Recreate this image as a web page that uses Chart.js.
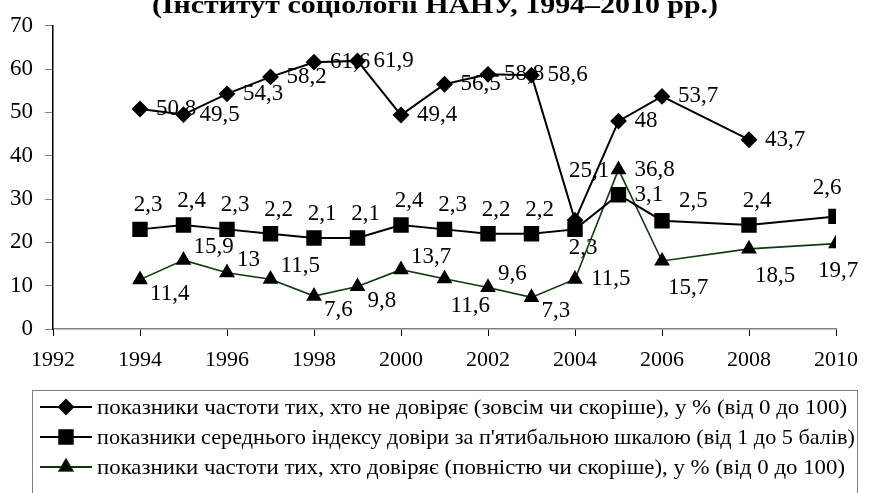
<!DOCTYPE html>
<html lang="uk">
<head>
<meta charset="UTF-8">
<title>Довіра (Інститут соціології НАНУ, 1994–2010)</title>
<script src="https://cdn.jsdelivr.net/npm/chart.js@4"></script>
<style>
  html, body { margin: 0; padding: 0; background: #fff; }
  canvas { display: block; }
</style>
</head>
<body>
<canvas id="trustChart" width="869" height="493"></canvas>
<script>
// years of the surveys
var years = [1994, 1995, 1996, 1997, 1998, 1999, 2000, 2001, 2002, 2003, 2004, 2005, 2006, 2008, 2010];
var yearsDistrust = [1994, 1995, 1996, 1997, 1998, 1999, 2000, 2001, 2002, 2003, 2004, 2005, 2006, 2008];

// % who do not trust (fully or rather)
var distrust = [50.8, 49.5, 54.3, 58.2, 61.6, 61.9, 49.4, 56.5, 58.8, 58.6, 25.1, 48, 53.7, 43.7];
// mean trust index on a 1..5 scale (drawn x10 on the same axis)
var trustIndex = [2.3, 2.4, 2.3, 2.2, 2.1, 2.1, 2.4, 2.3, 2.2, 2.2, 2.3, 3.1, 2.5, 2.4, 2.6];
// % who trust (fully or rather)
var trust = [11.4, 15.9, 13, 11.5, 7.6, 9.8, 13.7, 11.6, 9.6, 7.3, 11.5, 36.8, 15.7, 18.5, 19.7];

var seriesNames = [
    'показники частоти тих, хто не довіряє (зовсім чи скоріше), у % (від 0 до 100)',
    'показники середнього індексу довіри за п\'ятибальною шкалою (від 1 до 5 балів)',
    'показники частоти тих, хто довіряє (повністю чи скоріше), у % (від 0 до 100)'
];
var titleText = '(Інститут соціології НАНУ, 1994–2010 рр.)';

// where each value label sits relative to its marker
var labelPosDistrust = ['r','r','r','r','r','r','r','r','r','r','ul','r','r','r'];
var labelPosIndex = ['a','a','a','a','a','a','a','a','a','a','b','r','ar','a','al'];
var labelPosTrust = ['br','tr','tr','tr','br','br','tr','bb','tr','br','r','r','bb','bb','bl'];

var SERIF = '"Liberation Serif", "Times New Roman", serif';

function pts(xs, ys, k) {
    return ys.map(function (v, i) { return { x: xs[i], y: v * (k || 1) }; });
}
function fmt(v) { return String(v).replace('.', ','); }

// offsets for label keywords: [dx, dy, align]
var labelOffsets = {
    r:  [16, 0, 'left'],
    ul: [-6, -49, 'left'],
    a:  [8, -24, 'center'],
    al: [-9, -28, 'center'],
    ar: [17, -20, 'left'],
    tr: [10, -13, 'left'],
    b:  [8, 19, 'center'],
    br: [10, 14, 'left'],
    bb: [6, 27, 'left'],
    bl: [2, 27, 'center']
};

var valueLabels = {
    id: 'valueLabels',
    afterDatasetsDraw: function (chart) {
        var ctx = chart.ctx;
        var texts = [distrust.map(fmt), trustIndex.map(fmt), trust.map(fmt)];
        var poss = [labelPosDistrust, labelPosIndex, labelPosTrust];
        ctx.save();
        ctx.font = '23px ' + SERIF;
        ctx.fillStyle = '#000';
        ctx.textBaseline = 'middle';
        chart.data.datasets.forEach(function (ds, di) {
            var meta = chart.getDatasetMeta(di);
            meta.data.forEach(function (p, i) {
                var o = labelOffsets[poss[di][i]] || labelOffsets.r;
                ctx.textAlign = o[2];
                ctx.fillText(texts[di][i], p.x + o[0], p.y + o[1]);
            });
        });
        ctx.restore();
    }
};

var titleAndLegend = {
    id: 'titleAndLegend',
    afterDraw: function (chart) {
        var ctx = chart.ctx;
        ctx.save();
        // title, cut at the top as in the source
        ctx.font = 'bold 26px ' + SERIF;
        var tw = ctx.measureText(titleText).width;
        ctx.translate(435, 13);
        ctx.scale(566 / tw, 1);
        ctx.textAlign = 'center';
        ctx.textBaseline = 'alphabetic';
        ctx.fillStyle = '#000';
        ctx.fillText(titleText, 0, 0);
        ctx.restore();

        // legend box
        ctx.save();
        ctx.strokeStyle = '#808080';
        ctx.lineWidth = 1;
        ctx.strokeRect(32.5, 390.5, 825, 120);
        var rowY = [407, 437, 467];
        var rowW = [750, 758, 748];
        ctx.font = '21px ' + SERIF;
        chart.data.datasets.forEach(function (ds, i) {
            var y = rowY[i];
            ctx.strokeStyle = ds.borderColor;
            ctx.lineWidth = 2;
            ctx.beginPath();
            ctx.moveTo(40, y);
            ctx.lineTo(92, y);
            ctx.stroke();
            Chart.helpers.drawPoint(ctx, {
                pointStyle: ds.pointStyle, radius: ds.pointRadius, rotation: 0, borderWidth: 1
            }, 66, y);
            ctx.fillStyle = '#000';
            ctx.fill();
            var sx = rowW[i] / ctx.measureText(seriesNames[i]).width;
            ctx.save();
            ctx.translate(97, y);
            ctx.scale(sx, 1);
            ctx.textAlign = 'left';
            ctx.textBaseline = 'middle';
            ctx.fillText(seriesNames[i], 0, 1);
            ctx.restore();
        });
        ctx.restore();
    }
};

new Chart(document.getElementById('trustChart').getContext('2d'), {
    type: 'line',
    data: {
        datasets: [{
            label: seriesNames[0],
            data: pts(yearsDistrust, distrust),
            borderColor: '#000',
            borderWidth: 2,
            pointStyle: 'rectRot',
            pointRadius: 7,
            pointBackgroundColor: '#000',
            pointBorderColor: '#000'
        }, {
            label: seriesNames[1],
            data: pts(years, trustIndex, 10),
            borderColor: '#000',
            borderWidth: 2,
            pointStyle: 'rect',
            pointRadius: 9.5,
            pointBackgroundColor: '#000',
            pointBorderColor: '#000'
        }, {
            label: seriesNames[2],
            data: pts(years, trust),
            borderColor: '#0d3b0d',
            borderWidth: 1.6,
            pointStyle: 'triangle',
            pointRadius: 7.5,
            pointBackgroundColor: '#000',
            pointBorderColor: '#000'
        }]
    },
    options: {
        responsive: false,
        devicePixelRatio: 1,
        animation: false,
        layout: { padding: { top: 22, right: 26, bottom: 110, left: 0 } },
        plugins: { legend: { display: false }, title: { display: false }, tooltip: { enabled: false } },
        scales: {
            x: {
                type: 'linear',
                min: 1992, max: 2010,
                afterFit: function (s) { s.height = 54; },
                ticks: { stepSize: 2, color: '#000', font: { family: SERIF, size: 22 }, padding: 11,
                         callback: function (v) { return String(v); } },
                grid: { drawOnChartArea: false, tickLength: 7, tickColor: '#000' },
                border: { color: '#808080', width: 1.5 }
            },
            y: {
                min: 0, max: 70,
                afterFit: function (s) { s.width = 53; },
                ticks: { stepSize: 10, color: '#000', font: { family: SERIF, size: 23 }, padding: 12 },
                grid: { drawOnChartArea: false, tickLength: 8, tickColor: '#808080' },
                border: { color: '#000', width: 1.5 }
            }
        }
    },
    plugins: [valueLabels, titleAndLegend]
});
</script>
</body>
</html>
